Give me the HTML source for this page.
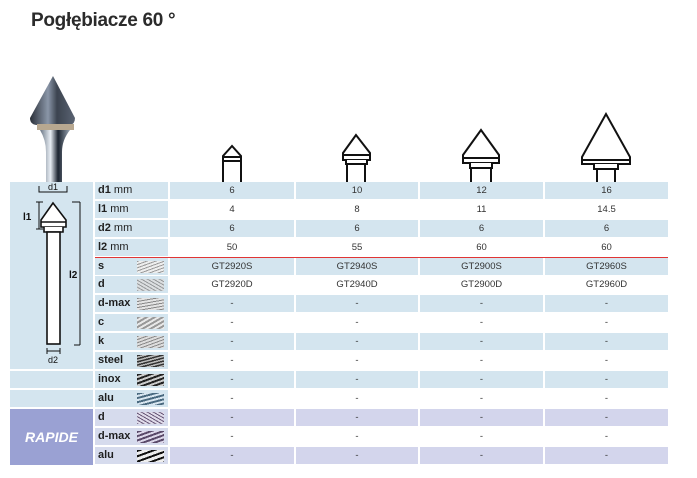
<!DOCTYPE html>
<html><head><meta charset="utf-8"><style>
body{margin:0;width:697px;height:478px;background:#fff;position:relative;overflow:hidden;font-family:"Liberation Sans",sans-serif;color:#222}
.a{position:absolute}
.c{position:absolute;height:17px;line-height:17px;text-align:center;font-size:9.5px;color:#333}
.b{background:#d4e5ef}.w{background:#fff}.v{background:#d3d5ec}
.l{position:absolute;left:95px;width:73px;height:17px;line-height:17px;font-size:11px;font-weight:bold;padding-left:3px;box-sizing:border-box;background:#d4e5ef;color:#1f1f1f}
.l span{font-weight:normal}
.t{position:absolute;left:137px;width:27px;height:12px;margin-top:2.5px}
</style></head><body>
<div class="a" style="left:31px;top:10px;font-size:19px;font-weight:bold;color:#2b2b2b;letter-spacing:-0.3px">Pogłębiacze 60 °</div>

<svg class="a" style="left:0;top:0" width="697" height="182">
<defs><linearGradient id="g" x1="0" x2="1"><stop offset="0" stop-color="#2a2f38"/><stop offset=".4" stop-color="#8a96a8"/><stop offset=".6" stop-color="#3c4450"/><stop offset="1" stop-color="#5a6372"/></linearGradient>
<linearGradient id="s" x1="0" x2="1"><stop offset="0" stop-color="#6a7685"/><stop offset=".35" stop-color="#e8eef4"/><stop offset=".6" stop-color="#1c2430"/><stop offset="1" stop-color="#9aa6b4"/></linearGradient></defs>
<path d="M53,76 L30,118 Q30,124 36,125 L70,125 Q75,124 75,118 Z" fill="url(#g)"/>
<rect x="37" y="124" width="37" height="6" fill="#b8a890"/>
<path d="M40,130 L70,130 Q62,140 62,152 L62,182 L46,182 L46,152 Q46,140 40,130Z" fill="url(#s)"/>
<g fill="#fff" stroke="#111" stroke-width="2">
<path d="M232,146 L223,156 L223,161 L241,161 L241,156 Z"/><path d="M222,157 H242"/><path d="M223,161 V182 M241,161 V182"/>
<path d="M356,135 L343,153 L343,160 L370,160 L370,153 Z"/><path d="M343,155 H370"/><path d="M346,160 V164 H367 V160 M347,164 V182 M365,164 V182"/>
<path d="M481,130 L463,155 L463,163 L499,163 L499,155 Z"/><path d="M463,158 H499"/><path d="M470,163 V168 H492 V163 M471,168 V182 M491,168 V182"/>
<path d="M606,114 L582,157 L582,164 L630,164 L630,157 Z"/><path d="M582,160 H630"/><path d="M594,164 V169 H618 V164 M597,169 V182 M615,169 V182"/>
</g></svg>

<div class="a" style="left:10px;top:182px;width:83px;height:187px;background:#d4e5ef"></div>
<div class="a" style="left:10px;top:371px;width:83px;height:17px;background:#d4e5ef"></div>
<div class="a" style="left:10px;top:390px;width:83px;height:17px;background:#d4e5ef"></div>
<div class="a" style="left:10px;top:409px;width:83px;height:56px;background:#9aa1d3;color:#fff;font-weight:bold;font-style:italic;font-size:14px;line-height:56px;text-align:center">RAPIDE</div>
<svg class="a" style="left:10px;top:182px" width="83" height="187">
<g fill="#fff" stroke="#111" stroke-width="1.6">
<path d="M43,21 L31,38 L31,45 L56,45 L56,38 Z"/><path d="M31,40 H56"/><path d="M34,45 V50 H53 V45"/><rect x="37" y="50" width="13" height="112"/>
</g>
<g stroke="#111" stroke-width="1" fill="none">
<path d="M29,4 V10 H57 V4"/><path d="M26,20 H33 M26,47 H33 M29,20 V47"/><path d="M62,20 H70 M70,20 V163 M64,163 H70"/><path d="M37,166 V172 M50,166 V172 M37,169 H50"/>
</g>
<text x="43" y="8" font-size="9" text-anchor="middle" font-family="Liberation Sans" fill="#111">d1</text>
<text x="13" y="38" font-size="10" font-weight="bold" font-family="Liberation Sans" fill="#111">l1</text>
<text x="59" y="96" font-size="10" font-weight="bold" font-family="Liberation Sans" fill="#111">l2</text>
<text x="43" y="181" font-size="9" text-anchor="middle" font-family="Liberation Sans" fill="#111">d2</text>
</svg>

<div class="l" style="top:182px">d1 <span>mm</span></div>
<div class="l" style="top:201px">l1 <span>mm</span></div>
<div class="l" style="top:220px">d2 <span>mm</span></div>
<div class="l" style="top:239px">l2 <span>mm</span></div>
<div class="l" style="top:258px">s</div>
<div class="l" style="top:276px">d</div>
<div class="l" style="top:295px">d-max</div>
<div class="l" style="top:314px">c</div>
<div class="l" style="top:333px">k</div>
<div class="l" style="top:352px">steel</div>
<div class="l" style="top:371px">inox</div>
<div class="l" style="top:390px">alu</div>
<div class="l" style="top:409px;background:#d6dbed">d</div>
<div class="l" style="top:428px;background:#d6dbed">d-max</div>
<div class="l" style="top:447px;background:#d6dbed">alu</div>

<div class="t" style="top:258px;background:repeating-linear-gradient(160deg,#999 0 1px,#eee 1px 3px)"></div>
<div class="t" style="top:276px;background:repeating-linear-gradient(30deg,#888 0 1px,#ddd 1px 3px),#aaa;opacity:.8"></div>
<div class="t" style="top:295px;background:repeating-linear-gradient(170deg,#888 0 1px,#e4e4e4 1px 3px)"></div>
<div class="t" style="top:314px;background:repeating-linear-gradient(150deg,#999 0 2px,#e8e8e8 2px 4px)"></div>
<div class="t" style="top:333px;background:repeating-linear-gradient(160deg,#888 0 1px,#ddd 1px 3px)"></div>
<div class="t" style="top:352px;background:repeating-linear-gradient(165deg,#333 0 1.5px,#bbb 1.5px 3px)"></div>
<div class="t" style="top:371px;background:repeating-linear-gradient(160deg,#222 0 2px,#ccc 2px 4px)"></div>
<div class="t" style="top:390px;background:repeating-linear-gradient(165deg,#4a6a80 0 2px,#d8e6f0 2px 4px)"></div>
<div class="t" style="top:409px;background:repeating-linear-gradient(30deg,#6a5a7a 0 1px,#e0dcea 1px 3px)"></div>
<div class="t" style="top:428px;background:repeating-linear-gradient(160deg,#5a4a6a 0 2px,#ddd8ea 2px 4px)"></div>
<div class="t" style="top:447px;background:repeating-linear-gradient(160deg,#111 0 2px,#eee 2px 5px)"></div>

<div class="c b" style="top:182px;left:170px;width:124px">6</div><div class="c b" style="top:182px;left:296px;width:122px">10</div><div class="c b" style="top:182px;left:420px;width:123px">12</div><div class="c b" style="top:182px;left:545px;width:123px">16</div>
<div class="c w" style="top:201px;left:170px;width:124px">4</div><div class="c w" style="top:201px;left:296px;width:122px">8</div><div class="c w" style="top:201px;left:420px;width:123px">11</div><div class="c w" style="top:201px;left:545px;width:123px">14.5</div>
<div class="c b" style="top:220px;left:170px;width:124px">6</div><div class="c b" style="top:220px;left:296px;width:122px">6</div><div class="c b" style="top:220px;left:420px;width:123px">6</div><div class="c b" style="top:220px;left:545px;width:123px">6</div>
<div class="c w" style="top:239px;left:170px;width:124px">50</div><div class="c w" style="top:239px;left:296px;width:122px">55</div><div class="c w" style="top:239px;left:420px;width:123px">60</div><div class="c w" style="top:239px;left:545px;width:123px">60</div>
<div class="c b" style="top:258px;left:170px;width:124px">GT2920S</div><div class="c b" style="top:258px;left:296px;width:122px">GT2940S</div><div class="c b" style="top:258px;left:420px;width:123px">GT2900S</div><div class="c b" style="top:258px;left:545px;width:123px">GT2960S</div>
<div class="a" style="left:95px;top:256.5px;width:573px;height:1.5px;background:#e03535"></div>
<div class="c w" style="top:276px;left:170px;width:124px">GT2920D</div><div class="c w" style="top:276px;left:296px;width:122px">GT2940D</div><div class="c w" style="top:276px;left:420px;width:123px">GT2900D</div><div class="c w" style="top:276px;left:545px;width:123px">GT2960D</div>
<div class="c b" style="top:295px;left:170px;width:124px">-</div><div class="c b" style="top:295px;left:296px;width:122px">-</div><div class="c b" style="top:295px;left:420px;width:123px">-</div><div class="c b" style="top:295px;left:545px;width:123px">-</div>
<div class="c w" style="top:314px;left:170px;width:124px">-</div><div class="c w" style="top:314px;left:296px;width:122px">-</div><div class="c w" style="top:314px;left:420px;width:123px">-</div><div class="c w" style="top:314px;left:545px;width:123px">-</div>
<div class="c b" style="top:333px;left:170px;width:124px">-</div><div class="c b" style="top:333px;left:296px;width:122px">-</div><div class="c b" style="top:333px;left:420px;width:123px">-</div><div class="c b" style="top:333px;left:545px;width:123px">-</div>
<div class="c w" style="top:352px;left:170px;width:124px">-</div><div class="c w" style="top:352px;left:296px;width:122px">-</div><div class="c w" style="top:352px;left:420px;width:123px">-</div><div class="c w" style="top:352px;left:545px;width:123px">-</div>
<div class="c b" style="top:371px;left:170px;width:124px">-</div><div class="c b" style="top:371px;left:296px;width:122px">-</div><div class="c b" style="top:371px;left:420px;width:123px">-</div><div class="c b" style="top:371px;left:545px;width:123px">-</div>
<div class="c w" style="top:390px;left:170px;width:124px">-</div><div class="c w" style="top:390px;left:296px;width:122px">-</div><div class="c w" style="top:390px;left:420px;width:123px">-</div><div class="c w" style="top:390px;left:545px;width:123px">-</div>
<div class="c v" style="top:409px;left:170px;width:124px">-</div><div class="c v" style="top:409px;left:296px;width:122px">-</div><div class="c v" style="top:409px;left:420px;width:123px">-</div><div class="c v" style="top:409px;left:545px;width:123px">-</div>
<div class="c w" style="top:428px;left:170px;width:124px">-</div><div class="c w" style="top:428px;left:296px;width:122px">-</div><div class="c w" style="top:428px;left:420px;width:123px">-</div><div class="c w" style="top:428px;left:545px;width:123px">-</div>
<div class="c v" style="top:447px;left:170px;width:124px">-</div><div class="c v" style="top:447px;left:296px;width:122px">-</div><div class="c v" style="top:447px;left:420px;width:123px">-</div><div class="c v" style="top:447px;left:545px;width:123px">-</div>
</body></html>
